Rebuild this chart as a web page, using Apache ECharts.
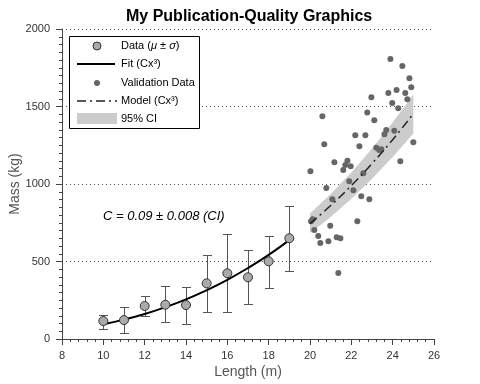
<!DOCTYPE html>
<html>
<head>
<meta charset="utf-8">
<script src="https://cdn.jsdelivr.net/npm/echarts@6/dist/echarts.min.js"></script>
<style>html,body{margin:0;padding:0;background:#fff;}#c{width:480px;height:384px;}</style>
</head>
<body>
<div id="c"></div>
<script>
// ---- Data ----
var dataX = [10, 11, 12, 13, 14, 15, 16, 17, 18, 19];
var dataMean = [116, 122, 213, 221, 219, 359, 424, 398, 501, 650];
var dataUpper = [157, 204, 280, 344, 338, 544, 675, 576, 667, 856];
var dataLower = [64, 36, 148, 107, 97, 172, 172, 224, 327, 439];

var fitX = [10, 11, 12, 13, 14, 15, 16, 17, 18, 19];
var fitY = [95, 125, 161, 205, 256, 315, 382, 458, 543, 638];

var modelX = [20, 21, 22, 23, 24, 25];
var modelY = [744, 861, 990, 1132, 1286, 1453];
var ciLower = [682, 787, 905, 1034, 1175, 1326];
var ciUpper = [810, 935, 1075, 1229, 1396, 1578];

var valX = [23.89, 24.47, 24.81, 24.90, 24.19, 23.79, 24.61, 24.71, 22.97, 23.98,
            24.27, 22.77, 23.11, 20.60, 23.69, 24.08, 23.60, 22.19, 22.68, 25.00,
            20.69, 22.39, 23.21, 23.35, 23.45, 24.37, 21.18, 21.81, 21.61, 21.97,
            21.71, 20.02, 22.58, 21.90, 20.79, 22.10, 22.48, 22.87, 21.08, 20.13,
            22.29, 20.21, 20.98, 20.40, 20.50, 20.89, 21.29, 21.47, 21.37, 20.05];
var valY = [1806, 1761, 1682, 1624, 1606, 1587, 1587, 1546, 1559, 1523,
            1488, 1462, 1411, 1437, 1348, 1344, 1321, 1314, 1314, 1269,
            1256, 1243, 1234, 1219, 1225, 1146, 1140, 1150, 1090, 1114,
            1123, 1082, 1069, 1017, 974, 959, 921, 901, 901, 772,
            759, 703, 731, 665, 619, 630, 656, 650, 426, 760];

var xTicks = [8, 10, 12, 14, 16, 18, 20, 22, 24, 26];
var yTicks = [0, 500, 1000, 1500, 2000];

var titleText = 'My Publication-Quality Graphics';
var xName = 'Length (m)';
var yName = 'Mass (kg)';
var annotation = 'C = 0.09 \u00b1 0.008 (CI)';

// ---- build ----
var FONT = '"Liberation Sans", Arial, sans-serif';
var chart = echarts.init(document.getElementById('c'), null, {renderer: 'canvas'});

function zip2(a, b) { return a.map(function (v, i) { return [v, b[i]]; }); }

var axisGray = '#444';

var option = {
  animation: false,
  backgroundColor: '#fff',
  title: {
    text: titleText, left: 121, top: 4,
    textStyle: {fontFamily: FONT, fontSize: 16, fontWeight: 'bold', color: '#000'}
  },
  grid: {left: 62, right: 46, top: 29, bottom: 45, containLabel: false, outerBoundsMode: 'none'},
  xAxis: {
    type: 'value', min: xTicks[0], max: xTicks[xTicks.length - 1], interval: 2,
    name: xName, nameLocation: 'middle', nameGap: 26, nameMoveOverlap: false,
    nameTextStyle: {fontFamily: FONT, fontSize: 14, color: '#555'},
    axisLine: {show: true, lineStyle: {color: axisGray, width: 1}},
    axisTick: {show: true, inside: false, length: 6, lineStyle: {color: axisGray}},
    minorTick: {show: true, splitNumber: 5, length: 3, lineStyle: {color: axisGray}},
    axisLabel: {fontFamily: FONT, fontSize: 11, color: '#333', margin: 11,
      formatter: function (v) { return String(v); }},
    splitLine: {show: false}
  },
  yAxis: {
    type: 'value', min: yTicks[0], max: yTicks[yTicks.length - 1], interval: 500,
    name: yName, nameLocation: 'middle', nameGap: 40, nameRotate: 90, nameMoveOverlap: false,
    nameTextStyle: {fontFamily: FONT, fontSize: 14, color: '#555'},
    axisLine: {show: true, lineStyle: {color: axisGray, width: 1}},
    axisTick: {show: true, inside: false, length: 6, lineStyle: {color: axisGray}},
    minorTick: {show: true, splitNumber: 10, length: 3, lineStyle: {color: axisGray}},
    axisLabel: {fontFamily: FONT, fontSize: 11, color: '#333', margin: 12,
      formatter: function (v) { return String(v); }},
    splitLine: {show: true, lineStyle: {color: '#555', width: 1, type: [1, 3]}}
  },
  series: [
    {
      name: '95% CI', type: 'custom', z: 1, silent: true,
      data: modelX.map(function (x, i) { return [x, ciLower[i], ciUpper[i]]; }),
      renderItem: function (params, api) {
        if (params.dataIndex !== 0) return null;
        var pts = [];
        for (var i = 0; i < modelX.length; i++) pts.push(api.coord([modelX[i], ciUpper[i]]));
        for (var j = modelX.length - 1; j >= 0; j--) pts.push(api.coord([modelX[j], ciLower[j]]));
        return {type: 'polygon', shape: {points: pts}, style: {fill: '#cccccc', stroke: null}};
      }
    },
    {
      name: 'Validation Data', type: 'scatter', z: 2, symbol: 'circle', symbolSize: 6,
      itemStyle: {color: '#666666', opacity: 1},
      data: zip2(valX, valY)
    },
    {
      name: 'Model (Cx3)', type: 'line', z: 3, showSymbol: false, symbol: 'none', smooth: true,
      lineStyle: {color: '#222', width: 1.5, type: [9, 4, 2, 4]},
      data: zip2(modelX, modelY)
    },
    {
      name: 'Error', type: 'custom', z: 4, silent: true,
      data: dataX.map(function (x, i) { return [x, dataLower[i], dataUpper[i]]; }),
      renderItem: function (params, api) {
        var x = api.value(0), lo = api.value(1), hi = api.value(2);
        var pt = api.coord([x, hi]), pb = api.coord([x, lo]);
        var cx = Math.round(pt[0]) + 0.5, yt = Math.round(pt[1]) + 0.5, yb = Math.round(pb[1]) + 0.5;
        var w = 4.5;
        var st = {stroke: '#555', lineWidth: 1};
        return {type: 'group', children: [
          {type: 'line', shape: {x1: cx, y1: yt, x2: cx, y2: yb}, style: st},
          {type: 'line', shape: {x1: cx - w, y1: yt, x2: cx + w, y2: yt}, style: st},
          {type: 'line', shape: {x1: cx - w, y1: yb, x2: cx + w, y2: yb}, style: st}
        ]};
      }
    },
    {
      name: 'Fit (Cx3)', type: 'line', z: 5, showSymbol: false, symbol: 'none', smooth: true,
      lineStyle: {color: '#000', width: 2},
      data: zip2(fitX, fitY)
    },
    {
      name: 'Data', type: 'scatter', z: 6, symbol: 'circle', symbolSize: 9,
      itemStyle: {color: '#aaaaaa', borderColor: '#333', borderWidth: 1, opacity: 1},
      data: zip2(dataX, dataMean)
    }
  ],
  graphic: [
    {type: 'rect', z: 100, shape: {x: 69.5, y: 36.5, width: 130, height: 92}, style: {fill: '#fff', stroke: '#000', lineWidth: 1}},
    {type: 'circle', z: 101, shape: {cx: 97, cy: 46, r: 4}, style: {fill: '#aaaaaa', stroke: '#333', lineWidth: 1}},
    {type: 'text', z: 101, x: 121, y: 46, style: {
      text: 'Data ({i|\u03bc} \u00b1 {i|\u03c3})', fill: '#000', font: '11px ' + FONT, verticalAlign: 'middle',
      rich: {i: {fontStyle: 'italic', fontSize: 11, fontFamily: FONT, fill: '#000'}}
    }},
    {type: 'line', z: 101, shape: {x1: 77, y1: 64, x2: 115, y2: 64}, style: {stroke: '#000', lineWidth: 2}},
    {type: 'text', z: 101, x: 121, y: 64, style: {text: 'Fit (Cx\u00b3)', fill: '#000', font: '11px ' + FONT, verticalAlign: 'middle'}},
    {type: 'circle', z: 101, shape: {cx: 97, cy: 83, r: 3}, style: {fill: '#666', stroke: null}},
    {type: 'text', z: 101, x: 121, y: 83, style: {text: 'Validation Data', fill: '#000', font: '11px ' + FONT, verticalAlign: 'middle'}},
    {type: 'line', z: 101, shape: {x1: 77, y1: 101, x2: 117, y2: 101}, style: {stroke: '#222', lineWidth: 1.5, lineDash: [9, 4, 2, 4]}},
    {type: 'text', z: 101, x: 121, y: 101, style: {text: 'Model (Cx\u00b3)', fill: '#000', font: '11px ' + FONT, verticalAlign: 'middle'}},
    {type: 'rect', z: 101, shape: {x: 77, y: 113, width: 40, height: 11}, style: {fill: '#cccccc', stroke: null}},
    {type: 'text', z: 101, x: 121, y: 119, style: {text: '95% CI', fill: '#000', font: '11px ' + FONT, verticalAlign: 'middle'}},
    {type: 'text', z: 101, x: 103, y: 216, style: {text: annotation, fill: '#000', font: 'italic 13px ' + FONT, verticalAlign: 'middle'}}
  ]
};
chart.setOption(option);
</script>
</body>
</html>
